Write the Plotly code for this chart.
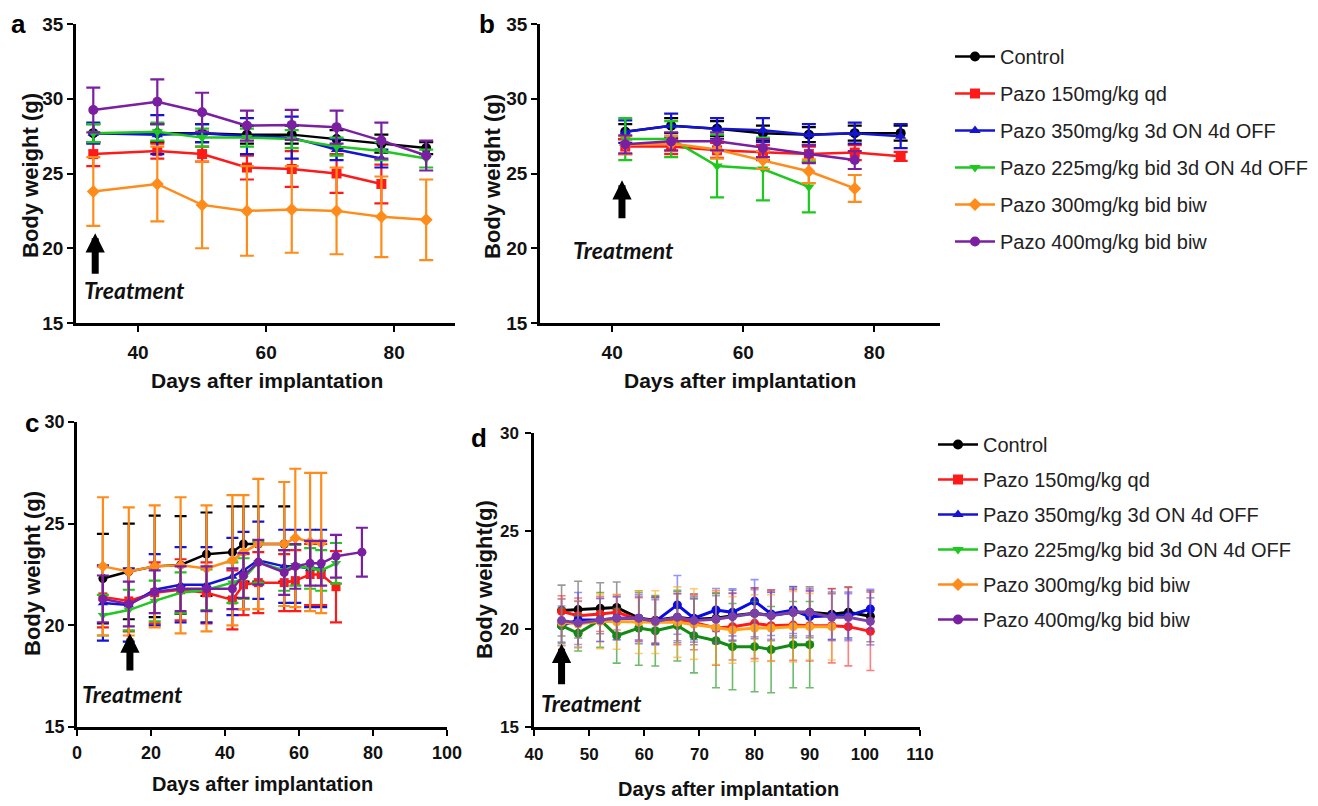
import plotly.graph_objects as go

W, H = 1318, 806

names = ["Control", "Pazo 150mg/kg qd", "Pazo 350mg/kg 3d ON 4d OFF",
         "Pazo 225mg/kg bid 3d ON 4d OFF", "Pazo 300mg/kg bid biw", "Pazo 400mg/kg bid biw"]
colors_ab = ["#000000", "#ff1a1a", "#1414d2", "#1ec81e", "#ff8c1a", "#7a1fa2"]
colors_d = ["#000000", "#ff1a1a", "#0a0ae6", "#138a13", "#ffa31a", "#7b3fa8"]
err_colors_d = ["rgba(110,110,110,0.7)", "rgba(255,40,40,0.6)", "rgba(60,60,255,0.55)",
                "rgba(30,150,30,0.65)", "rgba(255,170,40,0.65)", "rgba(130,80,190,0.6)"]
symbols = ["circle", "square", "triangle-up", "triangle-down", "diamond", "circle"]

# ---------------- Panel a ----------------
days_a = [33, 43, 50, 57, 64, 71, 78, 85]
a_ctrl = [27.7, 27.7, 27.7, 27.6, 27.6, 27.3, 27.0, 26.7]
a_ctrl_e = [0.6, 0.6, 0.6, 0.6, 0.6, 0.6, 0.6, 0.4]
a_150 = [26.3, 26.5, 26.3, 25.4, 25.3, 25.0, 24.3]
a_150_e = [0.8, 0.5, 0.5, 0.8, 1.2, 1.3, 1.3]
a_350 = [27.7, 27.6, 27.7, 27.5, 27.4, 26.6, 26.0]
a_350_e = [0.7, 1.3, 0.6, 1.2, 1.4, 0.7, 0.6]
a_225 = [27.7, 27.8, 27.4, 27.4, 27.3, 26.8, 26.5, 26.0]
a_225_e = [0.6, 0.6, 0.6, 0.6, 0.6, 0.6, 0.6, 0.6]
a_300 = [23.8, 24.3, 22.9, 22.5, 22.6, 22.5, 22.1, 21.9]
a_300_e = [2.3, 2.5, 2.9, 3.0, 2.9, 2.9, 2.7, 2.7]
a_400 = [29.25, 29.8, 29.1, 28.2, 28.25, 28.1, 27.2, 26.2]
a_400_e = [1.5, 1.5, 1.3, 1.0, 1.0, 1.1, 1.2, 1.0]

# ---------------- Panel b ----------------
days_b = [42, 49, 56, 63, 70, 77, 84]
b_ctrl = [27.8, 28.2, 28.0, 27.7, 27.6, 27.7, 27.7]
b_ctrl_e = [0.5, 0.5, 0.5, 0.5, 0.5, 0.5, 0.5]
b_150 = [26.8, 26.8, 26.55, 26.4, 26.3, 26.4, 26.15]
b_150_e = [0.5, 0.5, 0.5, 0.5, 0.5, 0.5, 0.3]
b_350 = [27.8, 28.2, 28.0, 27.9, 27.6, 27.7, 27.5]
b_350_e = [0.75, 0.8, 0.7, 0.8, 0.7, 0.7, 0.8]
b_225 = [27.3, 27.3, 25.5, 25.3, 24.1]
b_225_e = [1.4, 1.2, 2.1, 2.1, 1.7]
b_300 = [26.9, 27.0, 26.6, 25.9, 25.15, 24.0]
b_300_e = [0.6, 0.5, 0.6, 0.6, 0.8, 0.9]
b_400 = [26.95, 27.15, 27.15, 26.7, 26.3, 25.9]
b_400_e = [0.6, 0.6, 0.6, 0.6, 0.6, 0.6]

# ---------------- Panel c ----------------
days_c = [7, 14, 21, 28, 35, 42, 45, 49, 56, 59, 63, 66, 70, 77]
c_ctrl = [22.3, 22.65, 22.9, 22.97, 23.5, 23.6, 24.0, 24.0, 24.0]
c_ctrl_e = [2.2, 2.35, 2.5, 2.4, 2.05, 2.25, 1.85, 1.85, 1.85]
c_150 = [21.4, 21.2, 21.6, 21.75, 21.6, 21.25, 22.0, 22.1, 22.1, 22.2, 22.5, 22.5, 21.9]
c_150_e = [1.5, 1.5, 1.5, 1.5, 1.5, 1.45, 1.5, 1.5, 1.4, 1.5, 1.5, 1.5, 1.75]
c_350 = [21.1, 21.0, 21.75, 22.0, 22.0, 22.4, 22.7, 23.2, 22.9, 22.9, 22.8, 22.8]
c_350_e = [1.85, 1.8, 1.75, 1.85, 1.85, 1.9, 1.9, 1.9, 1.8, 1.8, 1.9, 1.9]
c_225 = [20.5, 20.75, 21.2, 21.6, 21.75, 22.1, 22.3, 23.1, 22.7, 22.95, 22.8, 22.7, 23.05]
c_225_e = [1.0, 1.0, 1.0, 1.0, 1.0, 1.0, 1.0, 1.0, 1.0, 1.0, 1.0, 1.0, 1.0]
c_300 = [22.9, 22.65, 22.9, 22.95, 22.8, 23.2, 23.6, 24.0, 24.0, 24.3, 24.1, 24.05]
c_300_e = [3.4, 3.15, 3.0, 3.35, 3.1, 3.2, 2.8, 3.2, 3.05, 3.4, 3.4, 3.45]
c_400 = [21.3, 21.05, 21.65, 21.8, 21.8, 21.8, 22.45, 23.1, 22.6, 22.9, 23.05, 23.05, 23.4, 23.6]
c_400_e = [1.15, 1.1, 1.05, 1.1, 1.1, 1.0, 1.1, 1.1, 1.1, 1.1, 1.1, 1.1, 1.05, 1.2]

# ---------------- Panel d ----------------
days_d = [45, 48, 52, 55, 59, 62, 66, 69, 73, 76, 80, 83, 87, 90, 94, 97, 101]
d_ctrl = [20.94, 20.99, 21.06, 21.1, 20.55, 20.45, 20.6, 20.5, 20.55, 20.68, 20.8, 20.7, 20.85, 20.85, 20.75, 20.85, 20.65]
d_ctrl_e = [1.3, 1.45, 1.3, 1.3, 1.3, 1.2, 1.3, 1.3, 1.3, 1.3, 1.3, 1.3, 1.3, 1.3, 1.3, 1.3, 1.3]
d_150 = [20.9, 20.68, 20.77, 20.85, 20.5, 20.43, 20.5, 20.34, 20.05, 20.12, 20.29, 20.17, 20.2, 20.17, 20.17, 20.12, 19.88]
d_150_e = [0.8, 0.9, 0.9, 0.9, 1.1, 1.2, 1.3, 1.4, 1.9, 1.7, 1.8, 1.8, 1.8, 1.8, 1.9, 2.0, 2.0]
d_350 = [20.17, 20.46, 20.46, 20.55, 20.55, 20.39, 21.23, 20.55, 20.97, 20.85, 21.42, 20.77, 20.97, 20.63, 20.68, 20.68, 21.02]
d_350_e = [1.0, 1.4, 1.1, 1.1, 1.2, 1.2, 1.5, 1.1, 1.1, 1.2, 1.1, 1.1, 1.2, 1.3, 1.2, 1.2, 1.0]
d_225 = [20.17, 19.78, 20.46, 19.66, 20.05, 19.91, 20.17, 19.66, 19.4, 19.1, 19.1, 18.95, 19.2, 19.2]
d_225_e = [0.9, 0.9, 1.4, 1.4, 1.9, 1.8, 1.8, 1.9, 2.4, 2.2, 2.3, 2.2, 2.2, 2.2]
d_300 = [20.34, 20.25, 20.39, 20.37, 20.35, 20.35, 20.35, 20.25, 20.08, 19.95, 20.05, 20.05, 20.12, 20.12, 20.12]
d_300_e = [1.2, 1.2, 1.4, 1.4, 1.6, 1.6, 1.8, 1.8, 1.9, 1.7, 1.7, 1.7, 1.8, 1.7, 1.7]
d_400 = [20.43, 20.31, 20.46, 20.55, 20.55, 20.39, 20.6, 20.43, 20.5, 20.63, 20.8, 20.68, 20.85, 20.85, 20.6, 20.6, 20.39]
d_400_e = [1.1, 1.1, 1.1, 1.1, 1.1, 1.1, 1.2, 1.1, 1.2, 1.2, 1.2, 1.2, 1.2, 1.2, 1.2, 1.2, 1.2]

panels = {
    "a": (days_a, [a_ctrl, a_150, a_350, a_225, a_300, a_400],
          [a_ctrl_e, a_150_e, a_350_e, a_225_e, a_300_e, a_400_e], "x", "y"),
    "b": (days_b, [b_ctrl, b_150, b_350, b_225, b_300, b_400],
          [b_ctrl_e, b_150_e, b_350_e, b_225_e, b_300_e, b_400_e], "x2", "y2"),
    "c": (days_c, [c_ctrl, c_150, c_350, c_225, c_300, c_400],
          [c_ctrl_e, c_150_e, c_350_e, c_225_e, c_300_e, c_400_e], "x3", "y3"),
    "d": (days_d, [d_ctrl, d_150, d_350, d_225, d_300, d_400],
          [d_ctrl_e, d_150_e, d_350_e, d_225_e, d_300_e, d_400_e], "x4", "y4"),
}

fig = go.Figure()
FONT = "Liberation Sans, Arial, sans-serif"

for key, (days, series, errs, xa, ya) in panels.items():
    for i in range(6):
        vals = series[i]
        n = len(vals)
        if key == "d":
            col = colors_d[i]
            ecol = err_colors_d[i]
            sym = "circle"
            msize = 9
            lw = 3
            ew = 4
            eth = 1.6
        elif key == "c":
            col = colors_ab[i]
            ecol = col
            sym = symbols[i]
            msize = 9
            lw = 2.5
            ew = 6
            eth = 2.2
        else:
            col = colors_ab[i]
            ecol = col
            sym = symbols[i]
            msize = 10
            lw = 2.5
            ew = 7
            eth = 2.2
        fig.add_trace(go.Scatter(
            x=days[:n], y=vals, mode="lines+markers", xaxis=xa, yaxis=ya,
            line=dict(color=col, width=lw),
            marker=dict(symbol=sym, size=msize, color=col),
            error_y=dict(type="data", array=errs[i][:n], color=ecol, thickness=eth, width=ew),
            showlegend=(key == "a"), legend="legend", legendgroup="g%d" % i,
            name=names[i],
        ))

# legend entries for panel d legend
for i in range(6):
    fig.add_trace(go.Scatter(
        x=[None], y=[None], mode="lines+markers", xaxis="x4", yaxis="y4",
        line=dict(color=colors_ab[i], width=2.5),
        marker=dict(symbol=symbols[i], size=10, color=colors_ab[i]),
        showlegend=True, legend="legend2", legendgroup="h%d" % i, name=names[i],
    ))


def dom_x(p0, p1):
    return [p0 / W, p1 / W]


def dom_y(top, bottom):
    return [1 - bottom / H, 1 - top / H]


def ax(size, **kw):
    d = dict(showline=True, linecolor="black", linewidth=2.5, ticks="outside",
             ticklen=6, tickwidth=2.2, tickcolor="black", showgrid=False,
             zeroline=False, mirror=False, automargin=False,
             tickfont=dict(family=FONT, size=size, color="#111111", weight="bold"))
    d.update(kw)
    return d


layout = dict(
    width=W, height=H, margin=dict(l=0, r=0, t=0, b=0, autoexpand=False),
    paper_bgcolor="white", plot_bgcolor="white",
    font=dict(family=FONT),
    xaxis=ax(19, domain=dom_x(76, 455), range=[30.3, 89.5], tickvals=[40, 60, 80], anchor="y",
             ticklabelstandoff=4),
    yaxis=ax(19, domain=dom_y(24, 323), range=[15, 35], tickvals=[15, 20, 25, 30, 35], anchor="x"),
    xaxis2=ax(19, domain=dom_x(540, 940), range=[29, 90], tickvals=[40, 60, 80], anchor="y2",
              ticklabelstandoff=4),
    yaxis2=ax(19, domain=dom_y(24, 323), range=[15, 35], tickvals=[15, 20, 25, 30, 35], anchor="x2"),
    xaxis3=ax(18, domain=dom_x(77, 447), range=[0, 100], tickvals=[0, 20, 40, 60, 80, 100], anchor="y3",
              ticklabelstandoff=2),
    yaxis3=ax(18, domain=dom_y(422, 727), range=[15, 30], tickvals=[15, 20, 25, 30], anchor="x3"),
    xaxis4=ax(17, domain=dom_x(534, 920), range=[40, 110], tickvals=list(range(40, 111, 10)), anchor="y4",
              ticklabelstandoff=4),
    yaxis4=ax(17, domain=dom_y(433, 727), range=[15, 30], tickvals=[15, 20, 25, 30], anchor="x4",
              ticklabelstandoff=3),
    legend=dict(x=950 / W, y=1 - 37 / H, xanchor="left", yanchor="top",
                font=dict(family=FONT, size=20, color="#222222"), tracegroupgap=8,
                bgcolor="rgba(0,0,0,0)", itemwidth=40),
    legend2=dict(x=933 / W, y=1 - 425 / H, xanchor="left", yanchor="top",
                 font=dict(family=FONT, size=20, color="#222222"), tracegroupgap=6,
                 bgcolor="rgba(0,0,0,0)", itemwidth=40),
)
fig.update_layout(**layout)

ann = []
# panel letters
for txt, px, py in [("a", 18, 24), ("b", 487, 24), ("c", 32, 423), ("d", 479, 438)]:
    ann.append(dict(text="<b>%s</b>" % txt, x=px / W, y=1 - py / H, xref="paper", yref="paper",
                    xanchor="center", yanchor="middle",
                    showarrow=False, font=dict(family=FONT, size=26, color="black")))

# axis titles
for txt, px, py, rot, sz in [("Days after implantation", 267, 380, 0, 21),
                             ("Body weight (g)", 30, 176, -90, 22),
                             ("Days after implantation", 740, 380, 0, 21),
                             ("Body weight (g)", 492, 176, -90, 22),
                             ("Days after implantation", 262, 784, 0, 20),
                             ("Body weight (g)", 32, 574, -90, 22),
                             ("Days after implantation", 728, 789, 0, 20),
                             ("Body weight(g)", 484, 580, -90, 22)]:
    ann.append(dict(text=txt, x=px / W, y=1 - py / H, xref="paper", yref="paper", showarrow=False,
                    xanchor="center", yanchor="middle", textangle=rot,
                    font=dict(family=FONT, size=sz, color="#111111", weight="bold")))

# treatment arrows and labels
treat = [("x", "y", 33.3, 21.0, 18.2, 39.5, 17.2),
         ("x2", "y2", 41.5, 24.55, 21.9, 41.8, 19.9),
         ("x3", "y3", 14.3, 19.6, 17.7, 14.9, 16.6),
         ("x4", "y4", 45, 19.25, 17.1, 50.4, 16.2)]
for xa, ya, xd, tip, tail, tx, ty in treat:
    ann.append(dict(x=xd, y=tip, ax=xd, ay=tail, xref=xa, yref=ya, axref=xa, ayref=ya,
                    showarrow=True, arrowhead=2, arrowsize=0.55, arrowwidth=7, arrowcolor="black", text=""))
    ann.append(dict(x=tx, y=ty, xref=xa, yref=ya, text="<b><i>Treatment</i></b>", showarrow=False,
                    xanchor="center", yanchor="middle",
                    font=dict(family="Lato, Open Sans, sans-serif", size=23, color="#111111")))
fig.update_layout(annotations=ann)

fig.write_html("out.html", config={"displayModeBar": False},
               post_script="document.body.style.margin='0px';")
